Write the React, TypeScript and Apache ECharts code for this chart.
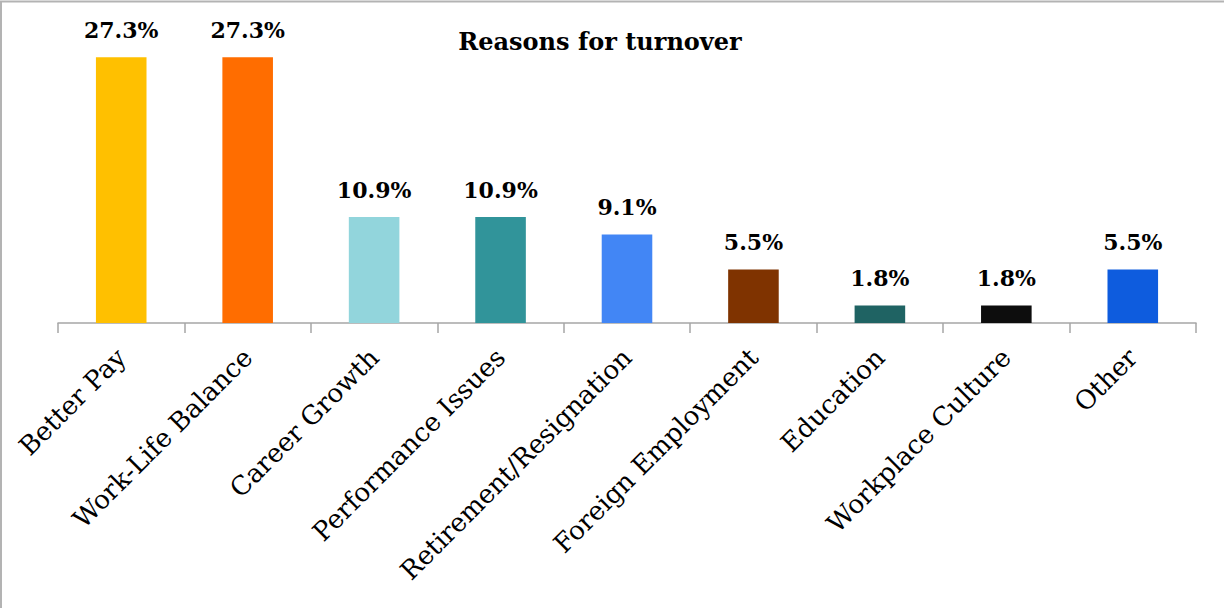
import React, { useEffect, useRef } from "react";
import * as echarts from "echarts";

const categories = [
  "Better Pay",
  "Work-Life Balance",
  "Career Growth",
  "Performance Issues",
  "Retirement/Resignation",
  "Foreign Employment",
  "Education",
  "Workplace Culture",
  "Other",
];
const values = [27.3, 27.3, 10.9, 10.9, 9.1, 5.5, 1.8, 1.8, 5.5];
const colors = [
  "#FFC000",
  "#FF6D00",
  "#92D5DC",
  "#31949A",
  "#4286F5",
  "#7F3300",
  "#1F6363",
  "#0D0D0D",
  "#0E5CDE",
];
const title = "Reasons for turnover";

const FONT = "'DejaVu Serif', 'Liberation Serif', serif";

export default function App() {
  const ref = useRef<HTMLDivElement>(null);
  useEffect(() => {
    document.body.style.margin = "0";
    const chart = echarts.init(ref.current!, null, { renderer: "svg" });
    chart.setOption({
      animation: false,
      backgroundColor: "#ffffff",
      title: {
        text: title,
        left: 595,
        textAlign: "center",
        top: 24,
        textStyle: { fontFamily: FONT, fontSize: 24, fontWeight: "bold", color: "#000" },
      },
      grid: { left: 58, right: 28, top: 31, bottom: 285, containLabel: false },
      xAxis: {
        type: "category",
        data: categories,
        axisLine: { lineStyle: { color: "#a6a6a6", width: 1.5 } },
        axisTick: { show: true, length: 10, lineStyle: { color: "#a6a6a6", width: 1.5 } },
        axisLabel: {
          rotate: 45,
          interval: 0,
          margin: 30,
          fontFamily: FONT,
          fontSize: 26,
          color: "#000",
        },
      },
      yAxis: {
        type: "value",
        min: 0,
        max: 30,
        show: false,
      },
      graphic: [
        {
          type: "polyline",
          shape: { points: [[1, 608], [1, 1.5], [1224, 1.5]] },
          style: { stroke: "#b3b3b3", lineWidth: 2, fill: "none" },
        },
      ],
      series: [
        {
          type: "bar",
          barWidth: "40%",
          data: values.map((v, i) => ({ value: v, itemStyle: { color: colors[i] } })),
          label: {
            show: true,
            position: "top",
            distance: 16,
            fontFamily: FONT,
            fontSize: 22,
            fontWeight: "bold",
            color: "#000",
            formatter: (p: any) => Number(p.value).toFixed(1) + "%",
          },
        },
      ],
    });
    return () => chart.dispose();
  }, []);
  return <div ref={ref} style={{ width: 1224, height: 608 }} />;
}
